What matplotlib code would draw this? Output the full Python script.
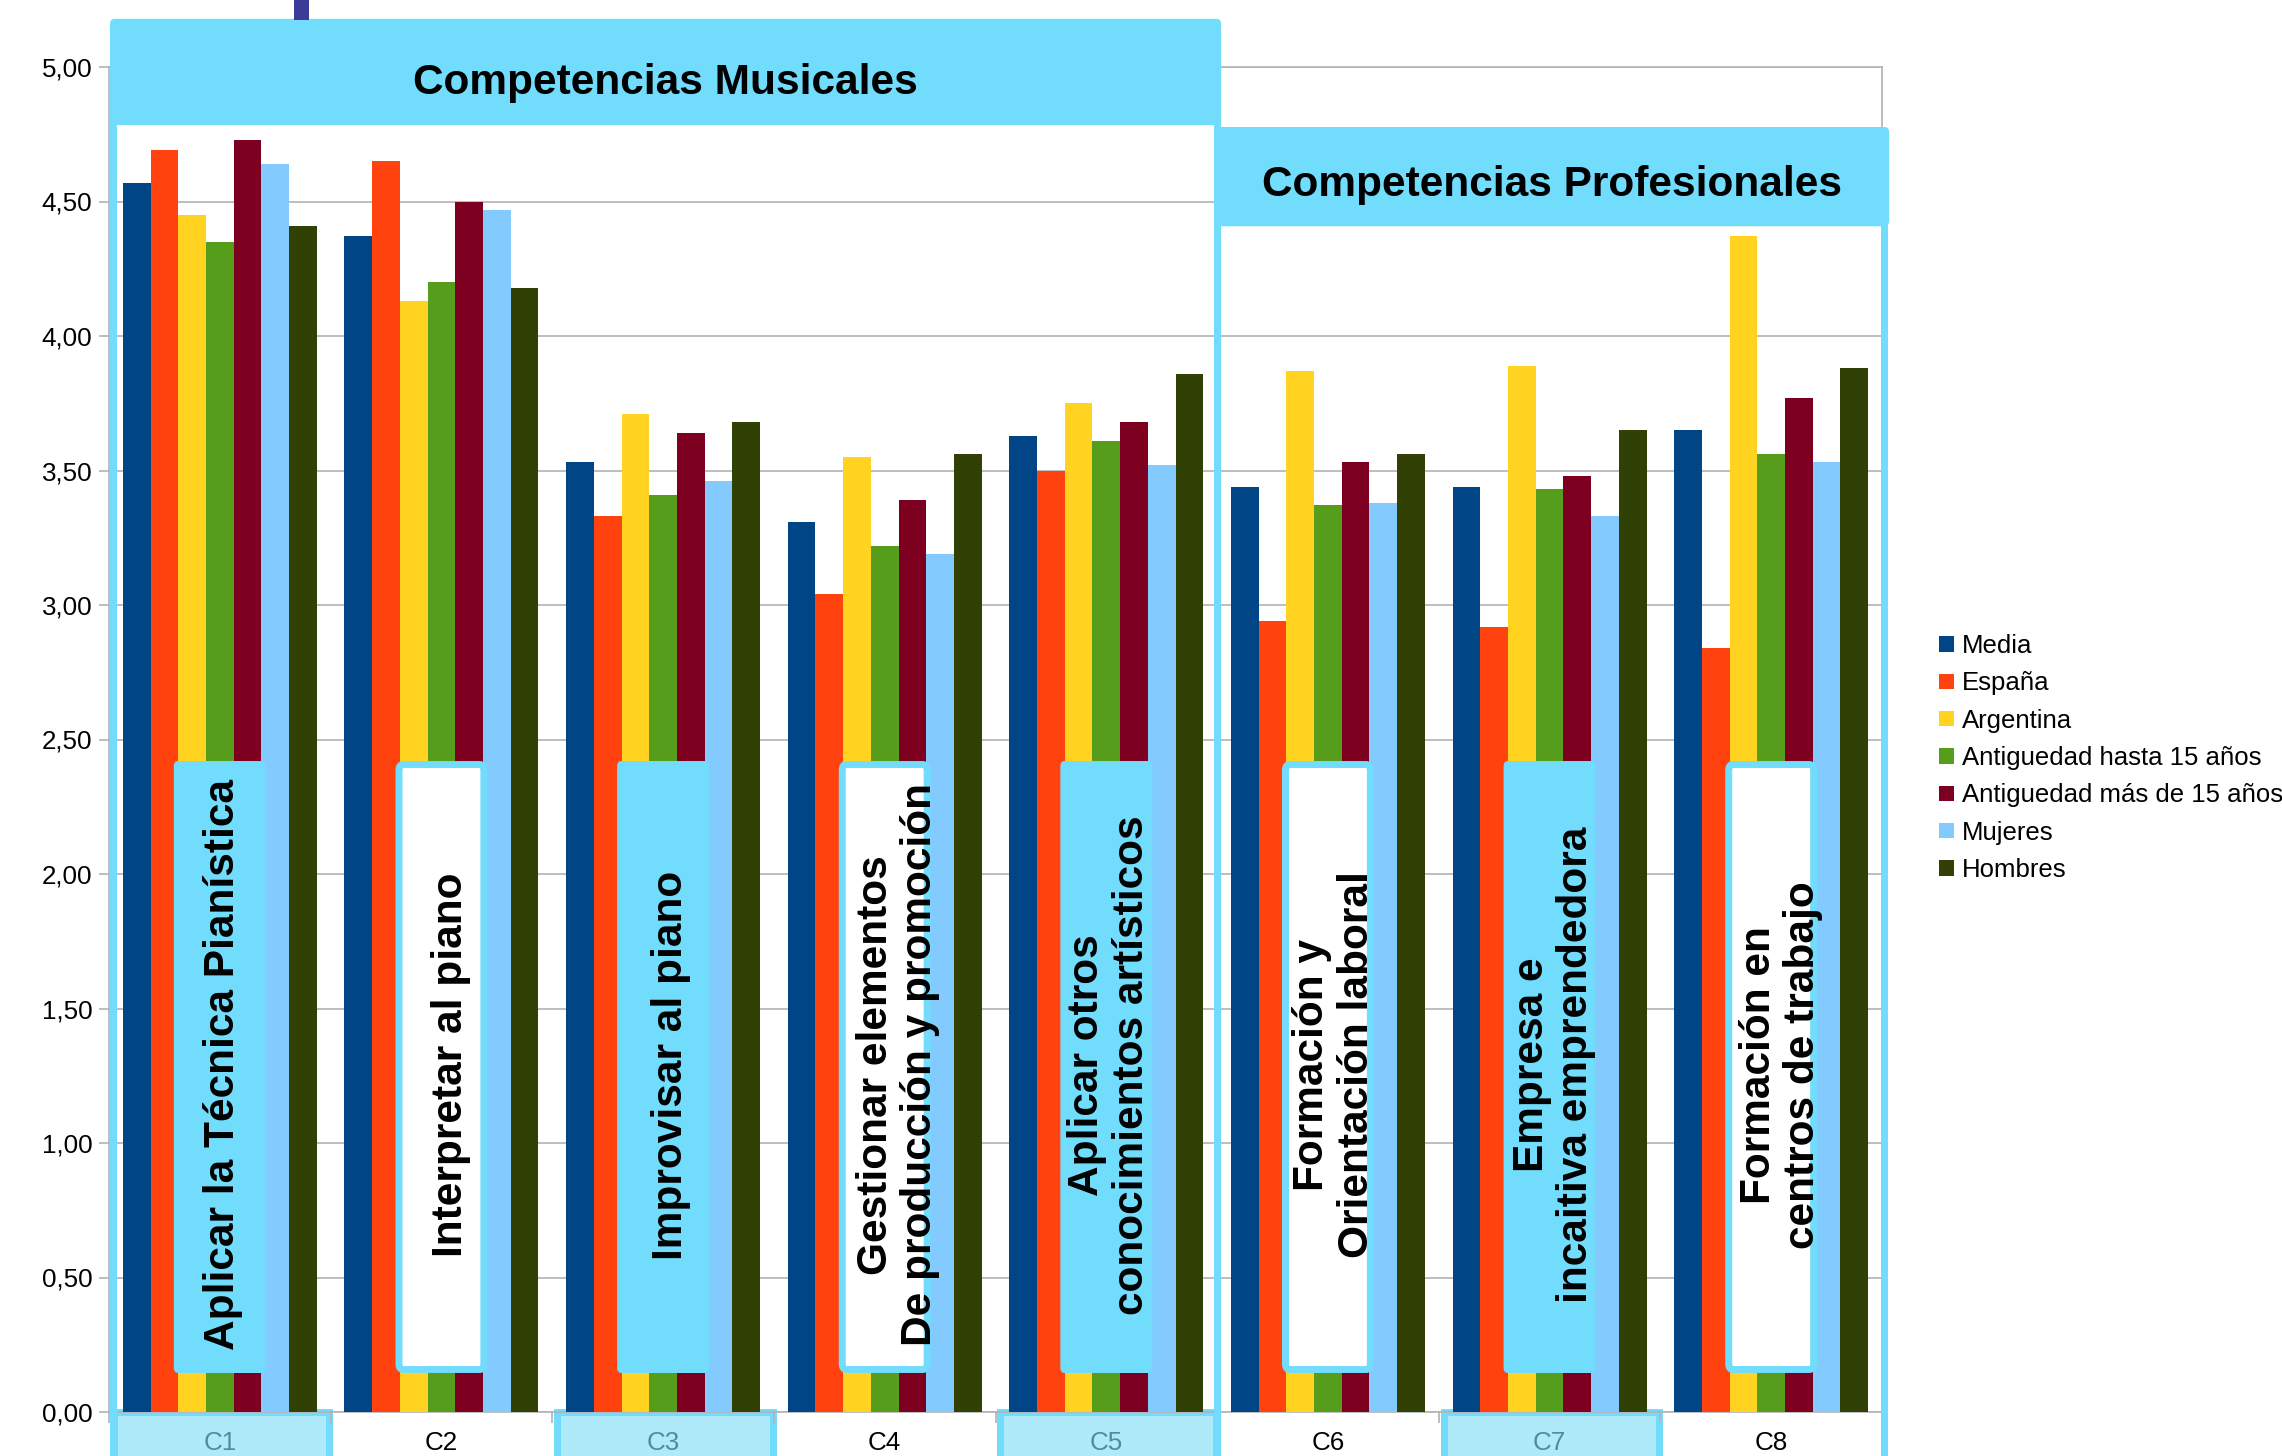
import numpy as np
import matplotlib
matplotlib.use("Agg")
import matplotlib.pyplot as plt
from matplotlib.patches import Rectangle, FancyBboxPatch

plt.rcParams['font.family'] = ['Liberation Sans', 'DejaVu Sans']

# ---------------- data ----------------
categories = ["C1", "C2", "C3", "C4", "C5", "C6", "C7", "C8"]
series_names = ["Media", "España", "Argentina", "Antiguedad hasta 15 años",
                "Antiguedad más de 15 años", "Mujeres", "Hombres"]
media      = [4.57, 4.37, 3.53, 3.31, 3.63, 3.44, 3.44, 3.65]
espana     = [4.69, 4.65, 3.33, 3.04, 3.50, 2.94, 2.92, 2.84]
argentina  = [4.45, 4.13, 3.71, 3.55, 3.75, 3.87, 3.89, 4.37]
antig_hasta15 = [4.35, 4.20, 3.41, 3.22, 3.61, 3.37, 3.43, 3.56]
antig_mas15   = [4.73, 4.50, 3.64, 3.39, 3.68, 3.53, 3.48, 3.77]
mujeres    = [4.64, 4.47, 3.46, 3.19, 3.52, 3.38, 3.33, 3.53]
hombres    = [4.41, 4.18, 3.68, 3.56, 3.86, 3.56, 3.65, 3.88]
series_values = [media, espana, argentina, antig_hasta15, antig_mas15, mujeres, hombres]
series_colors = ["#004586", "#ff420e", "#ffd320", "#579d1c", "#7e0021", "#83caff", "#314004"]

competencias = ["Aplicar la Técnica Pianística",
                "Interpretar al piano",
                "Improvisar al piano",
                "Gestionar elementos\nDe producción y promoción",
                "Aplicar otros\nconocimientos artísticos",
                "Formación y\nOrientación laboral",
                "Empresa e\nincaitiva emprendedora",
                "Formación en\ncentros de trabajo"]
group_titles = ["Competencias Musicales", "Competencias Profesionales"]
yticks = [0, 0.5, 1, 1.5, 2, 2.5, 3, 3.5, 4, 4.5, 5]
ytick_labels = ["0,00", "0,50", "1,00", "1,50", "2,00", "2,50", "3,00", "3,50", "4,00", "4,50", "5,00"]

# layout tweaks (horizontal offset of each vertical caption)
text_dx = [0.015, 0.045, 0.035, 0.06, 0.015, 0.03, 0.02, 0.045]

CYAN = "#72dcfc"
LIGHTCYAN = "#aeeafa"
GRID = "#b3b3b3"

W, H = 2282, 1456
fig = plt.figure(figsize=(W / 100, H / 100), dpi=100)
ax = fig.add_axes([109 / W, 1 - 1412 / H, (1882 - 109) / W, (1412 - 67) / H])

x = np.arange(len(categories))
bw = 1 / 8
for i, (vals, col, name) in enumerate(zip(series_values, series_colors, series_names)):
    ax.bar(x + (i - 3) * bw, vals, width=bw, color=col, label=name, zorder=3, linewidth=0)

ax.set_xlim(-0.5, len(categories) - 0.5)
ax.set_ylim(0, 5)
ax.set_yticks(yticks)
ax.set_yticklabels(ytick_labels, fontsize=18.7)
ax.yaxis.grid(True, color=GRID, linewidth=1.2)
ax.set_axisbelow(True)
for s in ax.spines.values():
    s.set_color(GRID)
    s.set_linewidth(1.2)
ax.tick_params(axis='y', length=7, width=1.2, color=GRID, pad=5, labelcolor="black")
ax.set_xticks(x)
ax.set_xticklabels(categories, fontsize=18.7)
ax.set_xticks(np.arange(len(categories) + 1) - 0.5, minor=True)
ax.tick_params(axis='x', which='major', length=0, pad=14)
ax.tick_params(axis='x', which='minor', length=8, width=1.2, color=GRID)
for i, lab in enumerate(ax.get_xticklabels()):
    lab.set_color("#4f8c9c" if i % 2 == 0 else "black")

# bottom label boxes for C1, C3, C5, C7 (drawn under the axis labels)
for i in range(0, len(categories), 2):
    ax.add_patch(Rectangle((i - 0.478, -0.5), 0.972, 0.5, facecolor=LIGHTCYAN,
                           edgecolor=CYAN, linewidth=5, clip_on=False, zorder=0.1))

# vertical text boxes
for i, txt in enumerate(competencias):
    if i % 2 == 0:
        ax.add_patch(FancyBboxPatch((i - 0.2075, 0.145), 0.415, 2.275,
                                    boxstyle="round,pad=0,rounding_size=0.02",
                                    facecolor=CYAN, edgecolor="none",
                                    zorder=5, clip_on=False))
    else:
        ax.add_patch(FancyBboxPatch((i - 0.1915, 0.158), 0.383, 2.249,
                                    boxstyle="round,pad=0,rounding_size=0.02",
                                    facecolor="white", edgecolor=CYAN, linewidth=5,
                                    zorder=5, clip_on=False))
    ax.text(i + text_dx[i], 1.29, txt, rotation=90, ha="center", va="center",
            multialignment="center", fontsize=30.5, fontweight="bold", color="black",
            linespacing=1.15, zorder=6)

# group frames and headers
# Musicales
ax.add_patch(Rectangle((-0.48, -0.4), 4.978, 5.2, facecolor="none", edgecolor=CYAN,
                       linewidth=5, clip_on=False, zorder=7))
ax.add_patch(FancyBboxPatch((-0.4955, 4.784), 5.0135, 0.395,
                            boxstyle="round,pad=0,rounding_size=0.02",
                            facecolor=CYAN, edgecolor="none", clip_on=False, zorder=8))
ax.text((-0.4955 + 4.518) / 2, 4.942, group_titles[0], ha="center", va="center",
        fontsize=30.5, fontweight="bold", color="black", zorder=9, clip_on=False)
# Profesionales
ax.add_patch(Rectangle((4.5, -0.4), 3.01, 4.85, facecolor="none", edgecolor=CYAN,
                       linewidth=5, clip_on=False, zorder=7))
ax.add_patch(FancyBboxPatch((4.486, 4.408), 3.046, 0.369,
                            boxstyle="round,pad=0,rounding_size=0.02",
                            facecolor=CYAN, edgecolor="none", clip_on=False, zorder=8))
ax.text((4.486 + 7.532) / 2, 4.563, group_titles[1], ha="center", va="center",
        fontsize=30.5, fontweight="bold", color="black", zorder=9, clip_on=False)

# small indigo mark at the top
fig.patches.append(Rectangle((294 / W, 1 - 20 / H), 15 / W, 20 / H, facecolor="#3b3b98",
                             edgecolor="none", transform=fig.transFigure, figure=fig))

handles, labels = ax.get_legend_handles_labels()
fig.legend(handles, labels, loc="upper left", bbox_to_anchor=(1939 / W, 1 - 634 / H),
           frameon=False, fontsize=18.5, handlelength=0.58, handleheight=0.55,
           handletextpad=0.3, labelspacing=0.52, borderpad=0, borderaxespad=0)

fig.savefig("out.png", dpi=100)
